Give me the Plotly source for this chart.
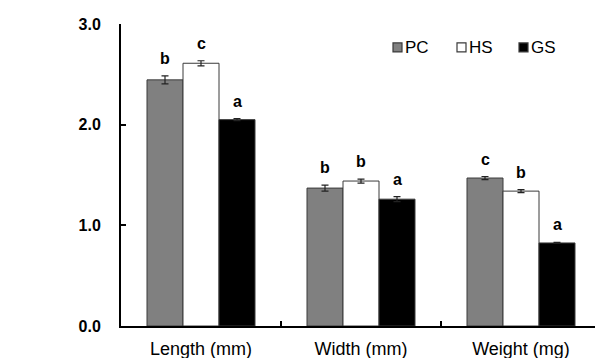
import plotly.graph_objects as go

categories = ["Length (mm)", "Width (mm)", "Weight (mg)"]
series_names = ["PC", "HS", "GS"]
pc_values = [2.445, 1.37, 1.47]
hs_values = [2.61, 1.44, 1.34]
gs_values = [2.05, 1.26, 0.825]
pc_errors = [0.04, 0.03, 0.015]
hs_errors = [0.025, 0.02, 0.015]
gs_errors = [0.01, 0.025, 0.005]
pc_letters = ["b", "b", "c"]
hs_letters = ["c", "b", "b"]
gs_letters = ["a", "a", "a"]
y_ticks = [0.0, 1.0, 2.0, 3.0]
y_tick_labels = ["0.0", "1.0", "2.0", "3.0"]

colors = ["#808080", "#ffffff", "#000000"]
values = [pc_values, hs_values, gs_values]
errors = [pc_errors, hs_errors, gs_errors]
letters = [pc_letters, hs_letters, gs_letters]

FONT = "Liberation Sans, Arial, sans-serif"
OFF = 8  # page body margin offset
W, H = 603 - OFF, 358 - OFF
ML, MR, MT, MB = 121 - OFF, 2, 24 - OFF, 31.5
PW, PH = W - ML - MR, H - MT - MB


def px_x(px):
    return (px - OFF - ML) / PW


def px_y(py):
    return 1 - (py - OFF - MT) / PH


fig = go.Figure()
for name, vals, errs, col in zip(series_names, values, errors, colors):
    fig.add_trace(go.Bar(
        name=name, x=categories, y=vals, marker_color=col,
        marker_line=dict(color="#3a3a3a", width=1),
        error_y=dict(type="data", array=errs, visible=True,
                     color="#222222", thickness=1.2, width=3.5),
        showlegend=False,
    ))

n = len(series_names)
annotations = []
for si, (vals, errs, labs) in enumerate(zip(values, errors, letters)):
    for ci, cat in enumerate(categories):
        annotations.append(dict(
            x=ci, y=vals[ci] + errs[ci], xref="x", yref="y",
            text="<b>%s</b>" % labs[ci], showarrow=False,
            yanchor="bottom", yshift=7,
            xshift=(si - (n - 1) / 2) * 36,
            font=dict(family=FONT, size=16, color="black"),
        ))

# legend drawn as small squares + labels (top right)
shapes = []
legend_x = [393, 457, 519]
for name, col, lx in zip(series_names, colors, legend_x):
    shapes.append(dict(
        type="rect", xref="paper", yref="paper",
        x0=px_x(lx), x1=px_x(lx + 9), y0=px_y(52), y1=px_y(43),
        fillcolor=col, line=dict(color="#3a3a3a", width=1.2),
    ))
    annotations.append(dict(
        x=px_x(lx + 10), y=px_y(47.5), xref="paper", yref="paper",
        text=name, showarrow=False, xanchor="left", yanchor="middle",
        font=dict(family=FONT, size=17, color="black"),
    ))

fig.update_layout(
    width=W, height=H,
    margin=dict(l=ML, r=MR, t=MT, b=MB, pad=0),
    paper_bgcolor="white", plot_bgcolor="white",
    barmode="group", bargap=0.325, bargroupgap=0,
    font=dict(family=FONT, size=15, color="black"),
    showlegend=False,
    annotations=annotations, shapes=shapes,
)
fig.update_xaxes(
    type="category", showline=True, linecolor="black", linewidth=2,
    ticks="inside", tickson="boundaries", ticklen=5, tickwidth=2, tickcolor="black",
    showgrid=False, automargin=False, ticklabelstandoff=5,
    tickfont=dict(family=FONT, size=18, color="black"),
)
fig.update_yaxes(
    range=[0, 3.0], tickvals=y_ticks, ticktext=["<b>%s</b>" % t for t in y_tick_labels],
    showline=True, linecolor="black", linewidth=2,
    ticks="inside", ticklen=5, tickwidth=2, tickcolor="black",
    showgrid=False, zeroline=False, ticklabelstandoff=15, automargin=False,
    tickfont=dict(family=FONT, size=16, color="black"),
)

fig.write_html("out.html")
